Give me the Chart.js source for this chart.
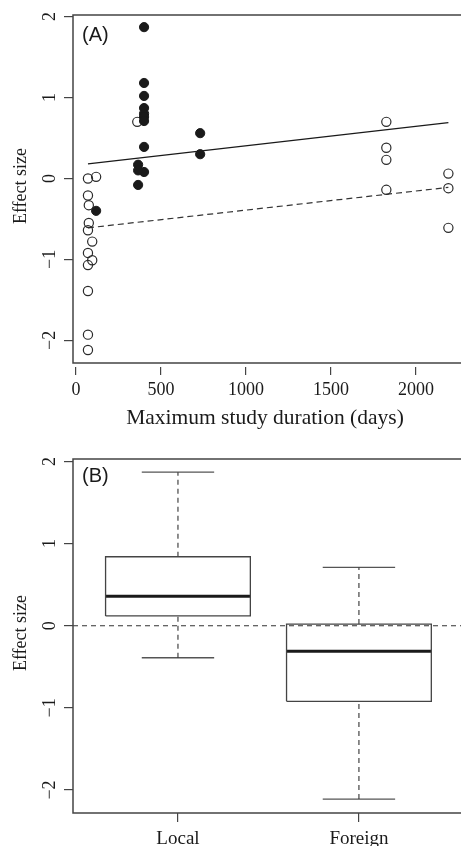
<!DOCTYPE html>
<html>
<head>
<meta charset="utf-8">
<script src="https://cdn.jsdelivr.net/npm/chart.js@4.4.1/dist/chart.umd.min.js"></script>
<style>
  html, body { margin: 0; padding: 0; background: #fff; overflow: hidden; }
  #wrapA { position: absolute; left: 0; top: 0; width: 490px; height: 430px; }
  #wrapB { position: absolute; left: 0; top: 425px; width: 490px; height: 421px; }
</style>
</head>
<body>
<div id="wrapA"><canvas id="durationChart" width="490" height="430"></canvas></div>
<div id="wrapB"><canvas id="originChart" width="490" height="421"></canvas></div>
<script>
// Panel A: effect size vs maximum study duration
const localDays = [400, 400, 400, 400, 400, 400, 400, 400, 400, 730, 730, 365, 365, 365, 118];
const localEffect = [1.87, 1.18, 1.02, 0.87, 0.80, 0.76, 0.71, 0.39, 0.08, 0.56, 0.30, 0.17, 0.10, -0.08, -0.40];
const foreignDays = [360, 70, 118, 70, 75, 75, 70, 95, 70, 95, 70, 70, 70, 70, 1825, 1825, 1825, 1825, 2190, 2190, 2190];
const foreignEffect = [0.70, 0.00, 0.02, -0.21, -0.33, -0.55, -0.64, -0.78, -0.92, -1.01, -1.07, -1.39, -1.93, -2.12, 0.70, 0.38, 0.23, -0.14, 0.06, -0.12, -0.61];
const localFitDays = [70, 2190];
const localFitEffect = [0.18, 0.69];
const foreignFitDays = [70, 2190];
const foreignFitEffect = [-0.61, -0.11];
const durationTicks = [0, 500, 1000, 1500, 2000];

// Panel B: box plot summary by origin
const groupLabels = ['Local', 'Foreign'];
const whiskerLow = [-0.39, -2.11];
const quartile1 = [0.12, -0.92];
const medians = [0.36, -0.31];
const quartile3 = [0.84, 0.02];
const whiskerHigh = [1.87, 0.71];

const effectTicks = [-2, -1, 0, 1, 2];
const effectTickLabels = ['−2', '−1', '0', '1', '2'];

const zip = (xs, ys) => xs.map((x, i) => ({ x, y: ys[i] }));
const serif = '"Liberation Serif", "DejaVu Serif", serif';
const ink = '#1a1a1a';
const frame = '#444';

// frame, tick labels, titles and panel letter in R style
const rFrame = {
  id: 'rFrame',
  afterDraw(chart, args, o) {
    const { ctx, chartArea: a, scales: { x, y } } = chart;
    const w = chart.width;
    ctx.save();
    ctx.strokeStyle = frame;
    ctx.lineWidth = 1.5;
    ctx.beginPath();
    ctx.moveTo(w, a.top);
    ctx.lineTo(a.left, a.top);
    ctx.lineTo(a.left, a.bottom);
    ctx.lineTo(w, a.bottom);
    ctx.stroke();

    ctx.fillStyle = ink;
    ctx.textAlign = 'center';
    ctx.textBaseline = 'middle';
    ctx.font = o.xLabelSize + 'px ' + serif;
    o.xTicks.forEach((v, i) => ctx.fillText(o.xLabels[i], x.getPixelForValue(v), a.bottom + o.xLabelGap));
    if (o.xTitle) {
      ctx.font = '21.5px ' + serif;
      ctx.fillText(o.xTitle, 265, a.bottom + o.xTitleGap);
    }

    ctx.font = '18px ' + serif;
    effectTicks.forEach((v, i) => {
      ctx.save();
      ctx.translate(a.left - 23, y.getPixelForValue(v));
      ctx.rotate(-Math.PI / 2);
      ctx.fillText(effectTickLabels[i], 0, 0);
      ctx.restore();
    });
    ctx.save();
    ctx.translate(a.left - 52, (a.top + a.bottom) / 2 - 3);
    ctx.rotate(-Math.PI / 2);
    ctx.fillText('Effect size', 0, 0);
    ctx.restore();

    ctx.font = '20px "Liberation Sans", Arial, sans-serif';
    ctx.textAlign = 'left';
    ctx.fillText(o.letter, a.left + 9, a.top + o.letterDy);
    ctx.restore();
  }
};

function effectAxis(min, max) {
  return {
    type: 'linear', min, max,
    afterBuildTicks: s => { s.ticks = effectTicks.map(value => ({ value })); },
    afterFit: s => { s.width = 9; },
    ticks: { display: false },
    border: { display: false },
    grid: { drawOnChartArea: false, drawTicks: true, tickLength: 9, color: frame, lineWidth: 1.2 }
  };
}

// Panel A
new Chart(document.getElementById('durationChart'), {
  type: 'scatter',
  data: {
    datasets: [
      { data: zip(localDays, localEffect), pointRadius: 4.6, pointBackgroundColor: ink, pointBorderColor: ink, pointBorderWidth: 1 },
      { data: zip(foreignDays, foreignEffect), pointRadius: 4.6, pointBackgroundColor: 'rgba(0,0,0,0)', pointBorderColor: '#2a2a2a', pointBorderWidth: 1.2 },
      { data: zip(localFitDays, localFitEffect), showLine: true, pointRadius: 0, borderColor: ink, borderWidth: 1.3 },
      { data: zip(foreignFitDays, foreignFitEffect), showLine: true, pointRadius: 0, borderColor: '#333', borderWidth: 1.2, borderDash: [6, 4] }
    ]
  },
  options: {
    responsive: false,
    animation: false,
    events: [],
    layout: { padding: { left: 64, right: 10, top: 15, bottom: 55 } },
    plugins: {
      legend: { display: false },
      tooltip: { enabled: false },
      rFrame: {
        xTicks: durationTicks, xLabels: durationTicks.map(String), xLabelSize: 18,
        xLabelGap: 27, xTitle: 'Maximum study duration (days)', xTitleGap: 55,
        letter: '(A)', letterDy: 20
      }
    },
    scales: {
      x: {
        type: 'linear', min: -18, max: 2376,
        afterBuildTicks: s => { s.ticks = durationTicks.map(value => ({ value })); },
        afterFit: s => { s.height = 12; },
        ticks: { display: false },
        border: { display: false },
        grid: { drawOnChartArea: false, drawTicks: true, tickLength: 12, tickBorderDash: [0, 4, 8, 40], color: frame, lineWidth: 1.2 }
      },
      y: effectAxis(-2.28, 2.02)
    }
  },
  plugins: [rFrame]
});

// Panel B
const boxDatasets = [];
groupLabels.forEach((g, i) => {
  const p = i + 1;
  boxDatasets.push(
    { data: [{ x: p - 0.4, y: quartile1[i] }, { x: p + 0.4, y: quartile1[i] }, { x: p + 0.4, y: quartile3[i] }, { x: p - 0.4, y: quartile3[i] }, { x: p - 0.4, y: quartile1[i] }], borderColor: frame, borderWidth: 1.3 },
    { data: [{ x: p - 0.4, y: medians[i] }, { x: p + 0.4, y: medians[i] }], borderColor: ink, borderWidth: 3 },
    { data: [{ x: p, y: quartile3[i] }, { x: p, y: whiskerHigh[i] }], borderColor: '#333', borderWidth: 1.1, borderDash: [5, 4] },
    { data: [{ x: p, y: whiskerLow[i] }, { x: p, y: quartile1[i] }], borderColor: '#333', borderWidth: 1.1, borderDash: [5, 4] },
    { data: [{ x: p - 0.2, y: whiskerHigh[i] }, { x: p + 0.2, y: whiskerHigh[i] }], borderColor: '#555', borderWidth: 1.3 },
    { data: [{ x: p - 0.2, y: whiskerLow[i] }, { x: p + 0.2, y: whiskerLow[i] }], borderColor: '#555', borderWidth: 1.3 }
  );
});
boxDatasets.push({ data: [{ x: 0.42, y: 0 }, { x: 2.67, y: 0 }], borderColor: '#333', borderWidth: 1.1, borderDash: [5, 4] });
boxDatasets.forEach(d => { d.showLine = true; d.pointRadius = 0; d.fill = false; });

new Chart(document.getElementById('originChart'), {
  type: 'scatter',
  data: { datasets: boxDatasets },
  options: {
    responsive: false,
    animation: false,
    events: [],
    layout: { padding: { left: 64, right: 10, top: 34, bottom: 24 } },
    plugins: {
      legend: { display: false },
      tooltip: { enabled: false },
      rFrame: {
        xTicks: [1, 2], xLabels: groupLabels, xLabelSize: 19,
        xLabelGap: 26, xTitle: '', xTitleGap: 0,
        letter: '(B)', letterDy: 17
      }
    },
    scales: {
      x: {
        type: 'linear', min: 0.42, max: 2.669,
        afterBuildTicks: s => { s.ticks = [1, 2].map(value => ({ value })); },
        afterFit: s => { s.height = 9; },
        ticks: { display: false },
        border: { display: false },
        grid: { drawOnChartArea: false, drawTicks: true, tickLength: 9, color: frame, lineWidth: 1.2 }
      },
      y: effectAxis(-2.28, 2.03)
    }
  },
  plugins: [rFrame]
});
</script>
</body>
</html>
